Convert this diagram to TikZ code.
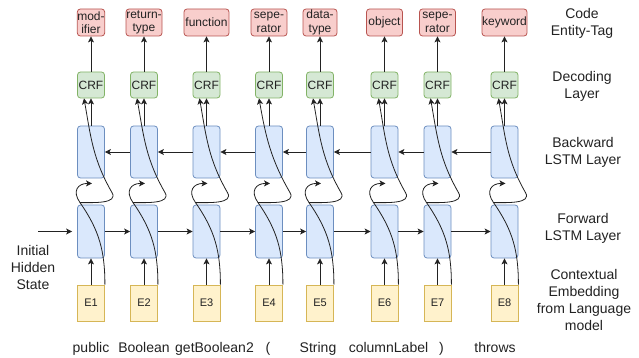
\documentclass[tikz,border=0pt]{standalone}
\usepackage{fontspec}
\setmainfont{Liberation Sans}
\usetikzlibrary{arrows.meta}
\definecolor{tagfill}{HTML}{F8CECC}
\definecolor{tagline}{HTML}{B85450}
\definecolor{crffill}{HTML}{D5E8D4}
\definecolor{crfline}{HTML}{82B366}
\definecolor{lstmfill}{HTML}{DAE8FC}
\definecolor{lstmline}{HTML}{6C8EBF}
\definecolor{embfill}{HTML}{FFF2CC}
\definecolor{embline}{HTML}{D6B656}
\definecolor{inkgray}{HTML}{222222}
\begin{document}
\begin{tikzpicture}[x=1pt,y=-1pt,
  conn/.style={-{Stealth[length=6pt,width=6pt,inset=1.5pt]},line width=0.8pt,draw=inkgray},
  tagbox/.style={draw=tagline,fill=tagfill,line width=0.8pt,rounded corners=3pt,minimum height=27pt,inner sep=0pt,align=center,text=inkgray,font=\fontsize{12pt}{13.5pt}\selectfont},
  crfbox/.style={draw=crfline,fill=crffill,line width=0.8pt,rounded corners=3pt,minimum width=27pt,minimum height=26pt,inner sep=0pt,text=inkgray,font=\fontsize{12pt}{14pt}\selectfont},
  lstmbox/.style={draw=lstmline,fill=lstmfill,line width=0.8pt,rounded corners=3pt,minimum width=27pt,minimum height=52pt},
  embbox/.style={draw=embline,fill=embfill,line width=0.8pt,minimum width=27pt,minimum height=36pt,inner sep=0pt,text=inkgray,font=\fontsize{11pt}{13pt}\selectfont},
  sidelabel/.style={align=center,inner sep=0pt,text=inkgray,font=\fontsize{14pt}{17pt}\selectfont},
  word/.style={anchor=base,inner sep=0pt,text=inkgray,font=\fontsize{14pt}{17pt}\selectfont}]
\useasboundingbox (0,0) rectangle (639,358);
\node[tagbox,minimum width=26pt] (T1) at (91,22.5) {mod-\\ifier};
\node[tagbox,minimum width=36pt] (T2) at (144,22.5) {return-\\type};
\node[tagbox,minimum width=45pt] (T3) at (206.5,22.5) {function};
\node[tagbox,minimum width=36pt] (T4) at (269,22.5) {sepe-\\rator};
\node[tagbox,minimum width=34pt] (T5) at (320,22.5) {data-\\type};
\node[tagbox,minimum width=36pt] (T6) at (384.5,22.5) {object};
\node[tagbox,minimum width=36pt] (T7) at (437.5,22.5) {sepe-\\rator};
\node[tagbox,minimum width=45pt] (T8) at (504.5,22.5) {keyword};
\node[crfbox] (C1) at (91,85) {CRF};
\node[crfbox] (C2) at (144,85) {CRF};
\node[crfbox] (C3) at (206.5,85) {CRF};
\node[crfbox] (C4) at (269,85) {CRF};
\node[crfbox] (C5) at (320,85) {CRF};
\node[crfbox] (C6) at (384.5,85) {CRF};
\node[crfbox] (C7) at (437.5,85) {CRF};
\node[crfbox] (C8) at (504.5,85) {CRF};
\node[lstmbox] (B1) at (91,152) {};
\node[lstmbox] (B2) at (144,152) {};
\node[lstmbox] (B3) at (206.5,152) {};
\node[lstmbox] (B4) at (269,152) {};
\node[lstmbox] (B5) at (320,152) {};
\node[lstmbox] (B6) at (384.5,152) {};
\node[lstmbox] (B7) at (437.5,152) {};
\node[lstmbox] (B8) at (504.5,152) {};
\node[lstmbox,minimum height=53pt] (F1) at (91,231.5) {};
\node[lstmbox,minimum height=53pt] (F2) at (144,231.5) {};
\node[lstmbox,minimum height=53pt] (F3) at (206.5,231.5) {};
\node[lstmbox,minimum height=53pt] (F4) at (269,231.5) {};
\node[lstmbox,minimum height=53pt] (F5) at (320,231.5) {};
\node[lstmbox,minimum height=53pt] (F6) at (384.5,231.5) {};
\node[lstmbox,minimum height=53pt] (F7) at (437.5,231.5) {};
\node[lstmbox,minimum height=53pt] (F8) at (504.5,231.5) {};
\node[embbox] (E1) at (91,303) {E1};
\node[embbox] (E2) at (144,303) {E2};
\node[embbox] (E3) at (206.5,303) {E3};
\node[embbox] (E4) at (269,303) {E4};
\node[embbox] (E5) at (320,303) {E5};
\node[embbox] (E6) at (384.5,303) {E6};
\node[embbox] (E7) at (437.5,303) {E7};
\node[embbox] (E8) at (504.5,303) {E8};
\node[word] (W1) at (91,352) {public};
\node[word] (W2) at (144,352) {Boolean};
\node[word] (W3) at (214.5,352) {getBoolean2};
\node[word] (W4) at (268,352) {(};
\node[word] (W5) at (318,352) {String};
\node[word] (W6) at (388.5,352) {columnLabel};
\node[word] (W7) at (441.5,352) {)};
\node[word] (W8) at (495,352) {throws};
\node[sidelabel] (L1) at (582,23.5) {Code\\Entity-Tag};
\node[sidelabel] (L2) at (582,86.5) {Decoding\\Layer};
\node[sidelabel] (L3) at (583,152.5) {Backward\\LSTM Layer};
\node[sidelabel] (L4) at (583,228) {Forward\\LSTM Layer};
\node[sidelabel] (L5) at (584,299.5) {Contextual\\Embedding\\from Language\\model};
\node[sidelabel] (IH) at (33,267) {Initial\\Hidden\\State};
\coordinate (init) at (38,231.5);
\draw[conn,shorten >=5pt] (init) -- (F1);
\draw[conn] (F1) -- (F2);
\draw[conn] (F2) -- (F3);
\draw[conn] (F3) -- (F4);
\draw[conn] (F4) -- (F5);
\draw[conn] (F5) -- (F6);
\draw[conn] (F6) -- (F7);
\draw[conn] (F7) -- (F8);
\draw[conn] (B2) -- (B1);
\draw[conn] (B3) -- (B2);
\draw[conn] (B4) -- (B3);
\draw[conn] (B5) -- (B4);
\draw[conn] (B6) -- (B5);
\draw[conn] (B7) -- (B6);
\draw[conn] (B8) -- (B7);
\draw[conn] (E1) -- (F1);
\draw[conn] (E2) -- (F2);
\draw[conn] (E3) -- (F3);
\draw[conn] (E4) -- (F4);
\draw[conn] (E5) -- (F5);
\draw[conn] (E6) -- (F6);
\draw[conn] (E7) -- (F7);
\draw[conn] (E8) -- (F8);
\draw[conn] (B1) -- (C1);
\draw[conn] (B2) -- (C2);
\draw[conn] (B3) -- (C3);
\draw[conn] (B4) -- (C4);
\draw[conn] (B5) -- (C5);
\draw[conn] (B6) -- (C6);
\draw[conn] (B7) -- (C7);
\draw[conn] (B8) -- (C8);
\draw[conn] (C1) -- (T1);
\draw[conn] (C2) -- (T2);
\draw[conn] (C3) -- (T3);
\draw[conn] (C4) -- (T4);
\draw[conn] (C5) -- (T5);
\draw[conn] (C6) -- (T6);
\draw[conn] (C7) -- (T7);
\draw[conn] (C8) -- (T8);
\draw[conn] (E1.north east) to[out=90,in=-55] ([shift={(-11,-2)}]F1.north) to[out=125,in=180,looseness=1.6] ([shift={(1,5)}]B1.south);
\draw[conn] (E2.north east) to[out=90,in=-55] ([shift={(-11,-2)}]F2.north) to[out=125,in=180,looseness=1.6] ([shift={(1,5)}]B2.south);
\draw[conn] (E3.north east) to[out=90,in=-55] ([shift={(-11,-2)}]F3.north) to[out=125,in=180,looseness=1.6] ([shift={(1,5)}]B3.south);
\draw[conn] (E4.north east) to[out=90,in=-55] ([shift={(-11,-2)}]F4.north) to[out=125,in=180,looseness=1.6] ([shift={(1,5)}]B4.south);
\draw[conn] (E5.north east) to[out=90,in=-55] ([shift={(-11,-2)}]F5.north) to[out=125,in=180,looseness=1.6] ([shift={(1,5)}]B5.south);
\draw[conn] (E6.north east) to[out=90,in=-55] ([shift={(-11,-2)}]F6.north) to[out=125,in=180,looseness=1.6] ([shift={(1,5)}]B6.south);
\draw[conn] (E7.north east) to[out=90,in=-55] ([shift={(-11,-2)}]F7.north) to[out=125,in=180,looseness=1.6] ([shift={(1,5)}]B7.south);
\draw[conn] (E8.north east) to[out=90,in=-55] ([shift={(-11,-2)}]F8.north) to[out=125,in=180,looseness=1.6] ([shift={(1,5)}]B8.south);
\draw[conn] ([shift={(-11,-2)}]F1.north) to[out=0,in=-60] ([shift={(21,-12)}]F1.north) to[out=120,in=-80] ([xshift=-7pt]C1.south);
\draw[conn] ([shift={(-11,-2)}]F2.north) to[out=0,in=-60] ([shift={(21,-12)}]F2.north) to[out=120,in=-80] ([xshift=-7pt]C2.south);
\draw[conn] ([shift={(-11,-2)}]F3.north) to[out=0,in=-60] ([shift={(21,-12)}]F3.north) to[out=120,in=-80] ([xshift=-7pt]C3.south);
\draw[conn] ([shift={(-11,-2)}]F4.north) to[out=0,in=-60] ([shift={(21,-12)}]F4.north) to[out=120,in=-80] ([xshift=-10pt]C4.south);
\draw[conn] ([shift={(-11,-2)}]F5.north) to[out=0,in=-60] ([shift={(21,-12)}]F5.north) to[out=120,in=-80] ([xshift=-7pt]C5.south);
\draw[conn] ([shift={(-11,-2)}]F6.north) to[out=0,in=-60] ([shift={(21,-12)}]F6.north) to[out=120,in=-80] ([xshift=-6pt]C6.south);
\draw[conn] ([shift={(-11,-2)}]F7.north) to[out=0,in=-60] ([shift={(21,-12)}]F7.north) to[out=120,in=-80] ([xshift=-7pt]C7.south);
\draw[conn] ([shift={(-11,-2)}]F8.north) to[out=0,in=-60] ([shift={(21,-12)}]F8.north) to[out=120,in=-80] ([xshift=-6pt]C8.south);
\end{tikzpicture}
\end{document}
